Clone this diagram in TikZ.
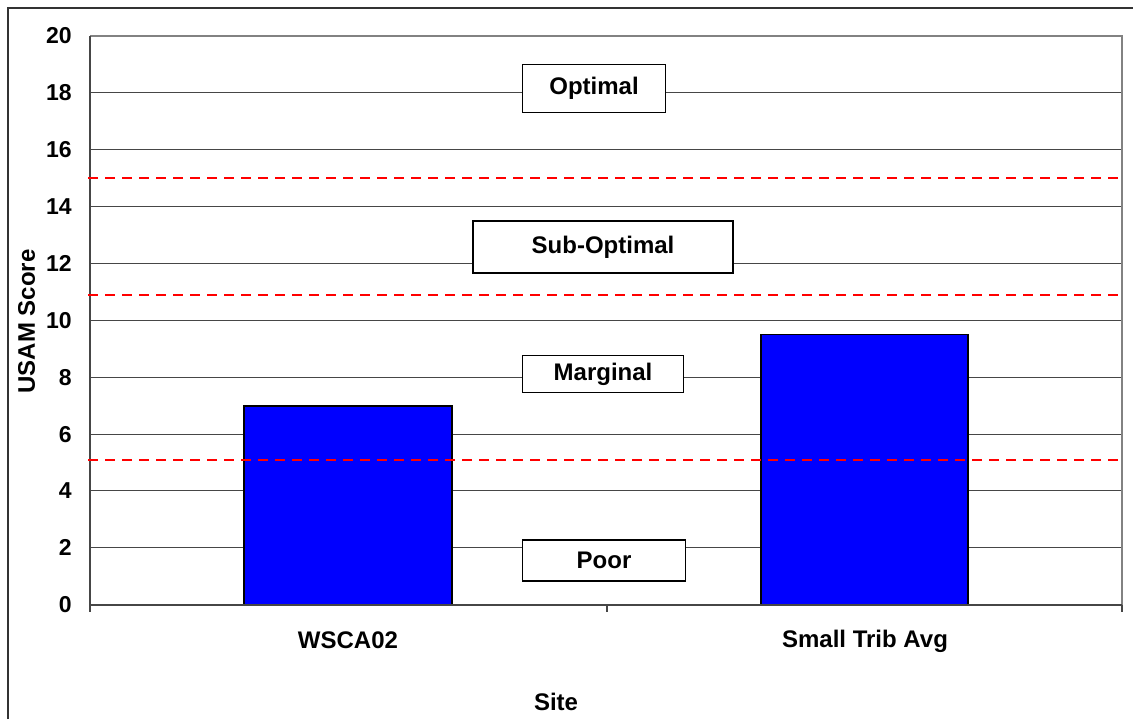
\documentclass[tikz,border=0pt]{standalone}
\usepackage{fontspec}
\setmainfont{Liberation Sans}
\usepackage{xcolor}
\usepackage{tikz}
\usetikzlibrary{positioning}
\definecolor{gridgray}{RGB}{70,70,70}
\definecolor{framegray}{RGB}{130,130,130}
\tikzstyle{zone} = [rectangle, draw=black, fill=white, line width=0.8pt, inner sep=0pt, text centered]
\tikzstyle{bar} = [draw=black, fill=blue, line width=0.9pt]
\tikzstyle{limit} = [red, line width=1.1pt, dash pattern=on 4.75pt off 3.75pt]
\tikzstyle{gridline} = [gridgray, line width=0.5pt]
\tikzstyle{axisline} = [gridgray, line width=0.8pt]
\tikzstyle{ticklabel} = [anchor=east, inner sep=0pt, font=\bfseries\fontsize{11.5}{13}\selectfont]
\tikzstyle{catlabel} = [anchor=base, inner sep=0pt]

\begin{document}
\begin{tikzpicture}[x=0.5pt, y=-0.5pt, font=\bfseries\fontsize{12}{14}\selectfont]
        \useasboundingbox (0,0) rectangle (1133,719);
        \fill [white] (0,0) rectangle (1133,719);
        \draw [line width=0.9pt, black!80] (8,719) -- (8,8) -- (1133,8);

        % plot area and grid
        \foreach \v in {2,4,...,18}
            \draw [gridline] (90,{604.7-28.435*\v}) -- (1122,{604.7-28.435*\v});
        \draw [framegray, line width=0.8pt] (90,36) -- (1122,36) -- (1122,604.7);
        \foreach \v in {0,2,...,20}
            \node (tick\v) [ticklabel] at (72,{604.7-28.435*\v}) {\v};

        % bars
        \filldraw [bar] (244,604.7) rectangle (452,{604.7-28.435*7});
        \filldraw [bar] (761,604.7) rectangle (968,{604.7-28.435*9.5});

        \draw [axisline] (90,36) -- (90,612);
        \draw [axisline] (90,604.7) -- (1122,604.7);
        \draw [axisline] (607,604.7) -- (607,612);
        \draw [axisline] (1122,604.7) -- (1122,612);

        % class limits
        \foreach \v in {15,10.9,5.1}
            \draw [limit] (88,{604.7-28.435*\v}) -- (1121,{604.7-28.435*\v});

        \node (optimal) [zone, minimum width=71.5pt, minimum height=24pt] at (594,88.3) {Optimal};
        \node (suboptimal) [zone, minimum width=130pt, minimum height=26pt] at (603,247) {Sub-Optimal};
        \node (marginal) [zone, minimum width=80.5pt, minimum height=18.5pt] at (603,374) {Marginal};
        \node (poor) [zone, minimum width=81.5pt, minimum height=20.5pt] at (604,560.4) {Poor};

        \node (wsca) [catlabel] at (348,648.5) {WSCA02};
        \node (smalltrib) [catlabel] at (865,647) {Small Trib Avg};
        \node (site) [catlabel] at (556,710.5) {Site};
        \node (score) [rotate=90, inner sep=0pt] at (26.5,321.5) {USAM Score};
    \end{tikzpicture}
\end{document}
